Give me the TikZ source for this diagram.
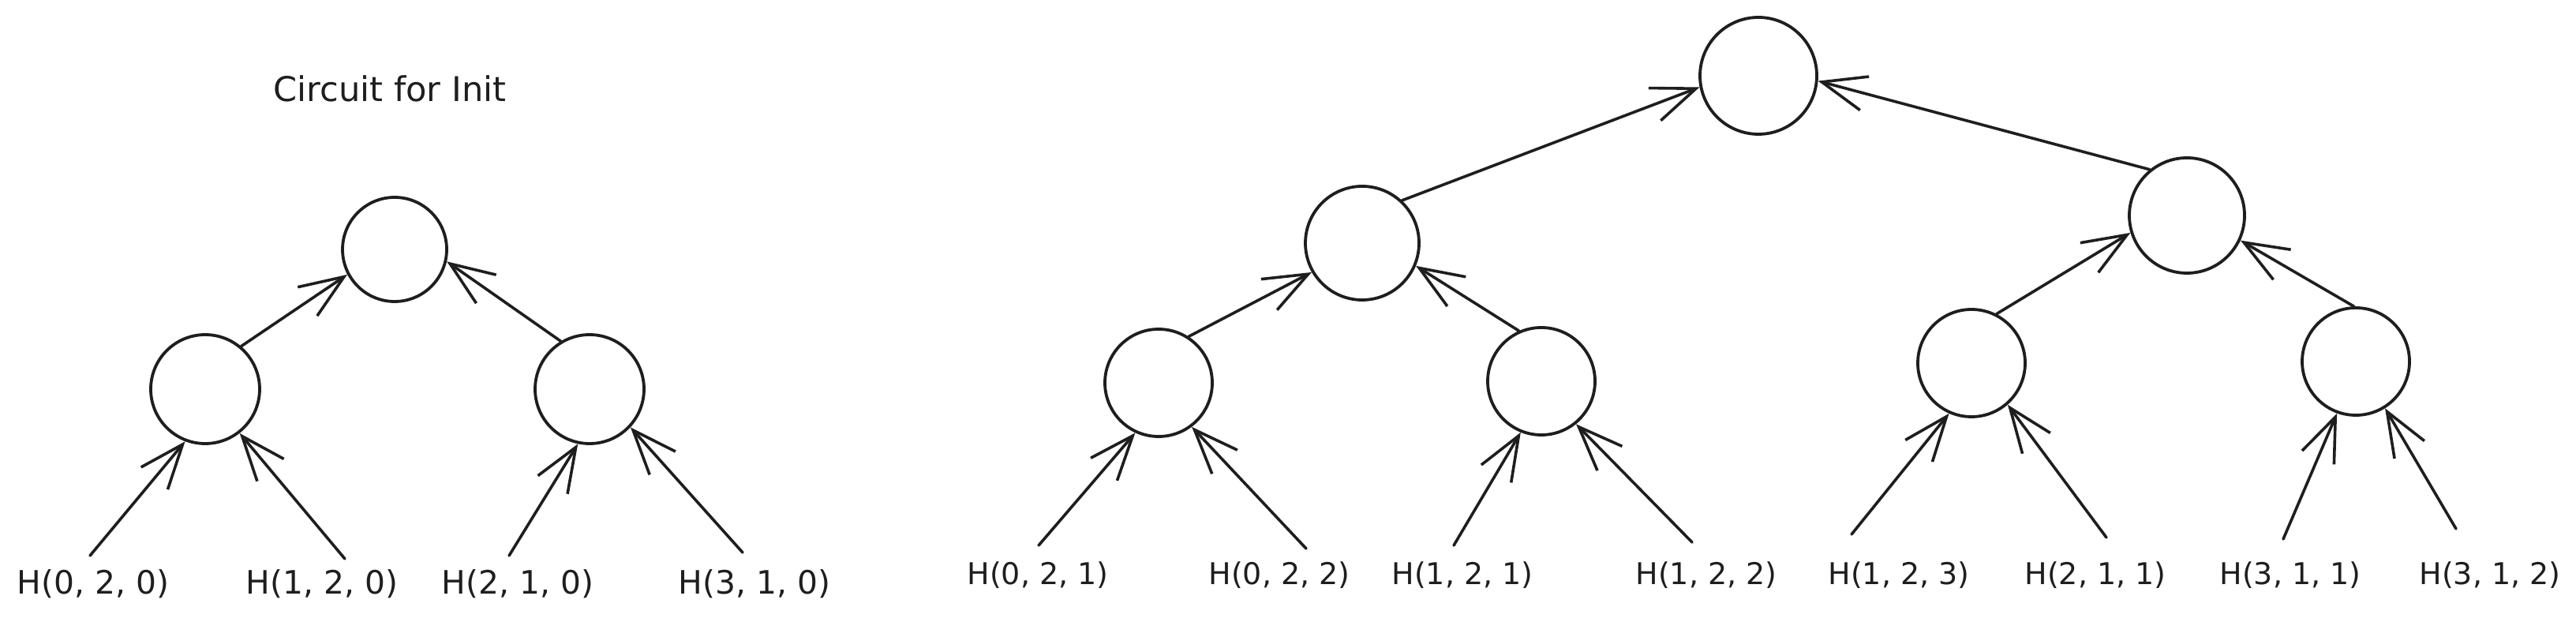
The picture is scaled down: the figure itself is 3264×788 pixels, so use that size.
\documentclass[tikz,border=0pt]{standalone}
\usepackage{fontspec}
\setmainfont{DejaVu Sans}
\usetikzlibrary{arrows.meta}
\definecolor{ink}{HTML}{1E1E1E}
\begin{document}
\begin{tikzpicture}[x=0.25pt,y=-0.25pt,
  gate/.style={circle,draw=ink,line width=0.95pt,inner sep=0pt,minimum size=#1},
  gate/.default=34pt,
  arr/.style={draw=ink,line width=0.9pt,line cap=round,-{Straight Barb[length=14pt,width=11pt,line width=0.9pt]}},
  lblL/.style={text=ink,inner sep=0pt,font=\fontsize{10.2pt}{12pt}\selectfont},
  lblR/.style={text=ink,inner sep=0pt,font=\fontsize{9.5pt}{11pt}\selectfont},
  titl/.style={text=ink,inner sep=0pt,font=\fontsize{10.8pt}{13pt}\selectfont}]
\useasboundingbox (0,0) rectangle (3264,788);

% ---------- left tree ----------
\node[titl] (title) at (494,112) {Circuit for Init};
\node[gate=33pt]   (A) at (500,316) {};
\node[gate=34.5pt] (B) at (260,493) {};
\node[gate=34.5pt] (C) at (747,493) {};

\node[lblL] (l1) at (118,740) {H(0, 2, 0)};
\node[lblL] (l2) at (408,740) {H(1, 2, 0)};
\node[lblL] (l3) at (656,740) {H(2, 1, 0)};
\node[lblL] (l4) at (956,740) {H(3, 1, 0)};

\coordinate (s1) at (114,704);
\coordinate (s2) at (437,708);
\coordinate (s3) at (645,704);
\coordinate (s4) at (941,700);

\draw[arr] (s1) -- (B.249);
\draw[arr] (s2) -- (B.308);
\draw[arr] (s3) -- (C.258);
\draw[arr] (s4) -- (C.317);
\draw[arr] (B.50) -- (A.208);
\draw[arr] (C.121) -- (A.347);

% ---------- right tree ----------
\node[gate=37pt] (R) at (2228,96) {};
\node[gate=36pt] (P) at (1726,308) {};
\node[gate=36.5pt] (Q) at (2771,273) {};
\node[gate] (D1) at (1468,485) {};
\node[gate] (D2) at (1953,483) {};
\node[gate] (D3) at (2498,460) {};
\node[gate] (D4) at (2985,458) {};

\node[lblR] (m1) at (1315,729) {H(0, 2, 1)};
\node[lblR] (m2) at (1621,729) {H(0, 2, 2)};
\node[lblR] (m3) at (1853,729) {H(1, 2, 1)};
\node[lblR] (m4) at (2162,729) {H(1, 2, 2)};
\node[lblR] (m5) at (2406,729) {H(1, 2, 3)};
\node[lblR] (m6) at (2655,729) {H(2, 1, 1)};
\node[lblR] (m7) at (2902,729) {H(3, 1, 1)};
\node[lblR] (m8) at (3155,729) {H(3, 1, 2)};

\coordinate (t1) at (1316,691);
\coordinate (t2) at (1655,695);
\coordinate (t3) at (1842,691);
\coordinate (t4) at (2144,687);
\coordinate (t5) at (2346,677);
\coordinate (t6) at (2669,681);
\coordinate (t7) at (2893,683);
\coordinate (t8) at (3112,670);

\draw[arr] (t1) -- (D1.245);
\draw[arr] (t2) -- (D1.307);
\draw[arr] (t3) -- (D2.248);
\draw[arr] (t4) -- (D2.309);
\draw[arr] (t5) -- (D3.246);
\draw[arr] (t6) -- (D3.311);
\draw[arr] (t7) -- (D4.250);
\draw[arr] (t8) -- (D4.302);

\draw[arr] (D1.57) -- (P.210);
\draw[arr] (D2.114) -- (P.337);
\draw[arr] (D3.63) -- (Q.197);
\draw[arr] (D4.92) -- (Q.335);
\draw[arr] (P.47) -- (R.191);
\draw[arr] (Q.129) -- (R.355);
\end{tikzpicture}
\end{document}
